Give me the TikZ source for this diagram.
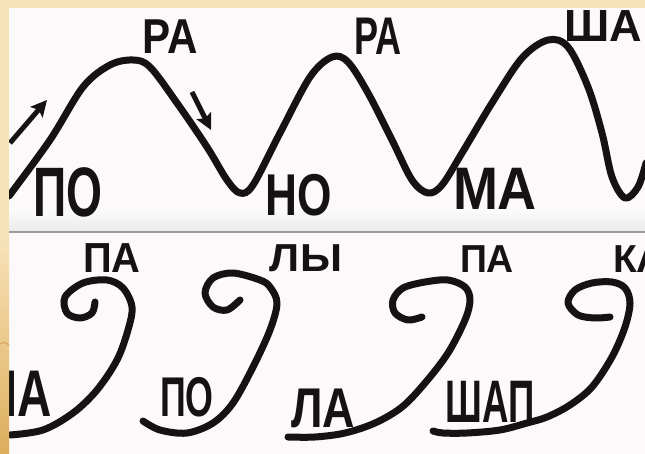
\documentclass[tikz,border=0pt]{standalone}
\usepackage{fontspec}
\setmainfont{Liberation Sans}
\usepackage{graphicx}
\usetikzlibrary{arrows.meta}
\definecolor{ink}{HTML}{141213}
\definecolor{paper}{HTML}{FBF9F9}
\definecolor{beige}{HTML}{F7E2B8}
\definecolor{gold}{HTML}{DDAE5C}
\definecolor{rule}{HTML}{A29A93}
\newcommand{\sylsz}[3]{\scalebox{#2}[1]{\fontsize{#1}{#1}\selectfont\bfseries #3}}
\tikzset{
  syl/.style={inner sep=0pt, outer sep=0pt, text=ink},
  wave/.style={draw=ink, line width=7pt, line cap=round, line join=round},
  pointer/.style={draw=ink, line width=5pt, -{Stealth[length=16pt,width=16pt,inset=3pt]}}
}
\begin{document}
\begin{tikzpicture}[x=1pt,y=-1pt]
\useasboundingbox (0,0) rectangle (645,454);
\fill[paper] (0,0) rectangle (645,454);
% shadow between strips
\shade[top color=paper, bottom color=black!8] (0,212) rectangle (645,231);
\draw[rule, line width=2pt] (0,232) -- (645,232);

% top wave
\draw[wave] plot[smooth, tension=0.55] coordinates {
 (9,196) (50,140) (83,87) (110,65) (133,60) (150,67) (177,103) (207,147) (227,180) (240,193) (253,185)
 (280,133) (310,77) (332,57) (348,62) (368,93) (392,140) (412,180) (428,193) (442,185) (462,153)
 (492,103) (522,58) (548,40) (568,47) (588,87) (602,133) (612,177) (625,198) (638,187) (646,163)};

% arrows
\coordinate (a1s) at (10,143); \coordinate (a1e) at (47,100);
\coordinate (a2s) at (192,92); \coordinate (a2e) at (211,130);
\draw[pointer] (a1s) -- (a1e);
\draw[pointer] (a2s) -- (a2e);

% bottom swirls
\draw[wave] plot[smooth, tension=0.55] coordinates {
 (95,302) (92,313) (80,318) (67,313) (65,297) (83,283) (107,280) (123,288) (132,307) (128,330)
 (117,360) (97,390) (73,413) (43,430) (10,435)};
\draw[wave] plot[smooth, tension=0.55] coordinates {
 (240,300) (227,310) (213,307) (205,293) (213,278) (233,273) (260,280) (270,287) (277,303) (270,330)
 (253,367) (233,403) (213,423) (187,433) (160,430) (143,421)};
\draw[wave] plot[smooth, tension=0.55] coordinates {
 (422,317) (408,320) (395,313) (393,300) (403,288) (425,282) (448,280) (465,287) (470,300) (465,320)
 (448,353) (425,383) (402,407) (375,423) (345,433) (315,437) (288,437)};
\draw[wave] plot[smooth, tension=0.55] coordinates {
 (610,317) (595,318) (578,315) (568,303) (575,290) (592,283) (612,282) (625,288) (630,303) (625,327)
 (612,357) (592,387) (570,405) (547,417) (527,423) (500,430) (467,433) (443,433) (433,431)};

% syllables, top strip
\node[syl] (t1) at (68,192) {\sylsz{70}{0.66}{ПО}};
\node[syl] (t2) at (170,37) {\sylsz{49}{0.86}{РА}};
\node[syl] (t3) at (299,195) {\sylsz{59}{0.75}{НО}};
\node[syl] (t4) at (378,36) {\sylsz{53}{0.68}{РА}};
\node[syl] (t5) at (495,189) {\sylsz{60}{0.9}{МА}};
\node[syl] (t6) at (603,26) {\sylsz{45}{1.0}{ША}};

% syllables, bottom strip
\node[syl] (b1) at (112,258) {\sylsz{42}{0.95}{ПА}};
\node[syl] (b2) at (306,258) {\sylsz{39}{1.1}{ЛЫ}};
\node[syl] (b3) at (487,259) {\sylsz{39}{0.96}{ПА}};
\node[syl] (b4) at (639,259) {\sylsz{39}{1.0}{КА}};
\node[syl] (b5) at (18,394) {\sylsz{66}{0.72}{ПА}};
\node[syl] (b6) at (187,397) {\sylsz{56}{0.64}{ПО}};
\node[syl] (b7) at (323,408) {\sylsz{56}{0.8}{ЛА}};
\node[syl] (b8) at (490,402) {\sylsz{60}{0.61}{ШАП}};

% frame (slide border)
\fill[beige] (0,0) rectangle (645,8);
\fill[beige] (0,0) rectangle (9,240);
\shade[top color=beige, bottom color=gold] (0,240) rectangle (9,454);
\draw[gold!70!brown, line width=1pt] (0,344) .. controls (4,342) .. (9,345);
\end{tikzpicture}
\end{document}
